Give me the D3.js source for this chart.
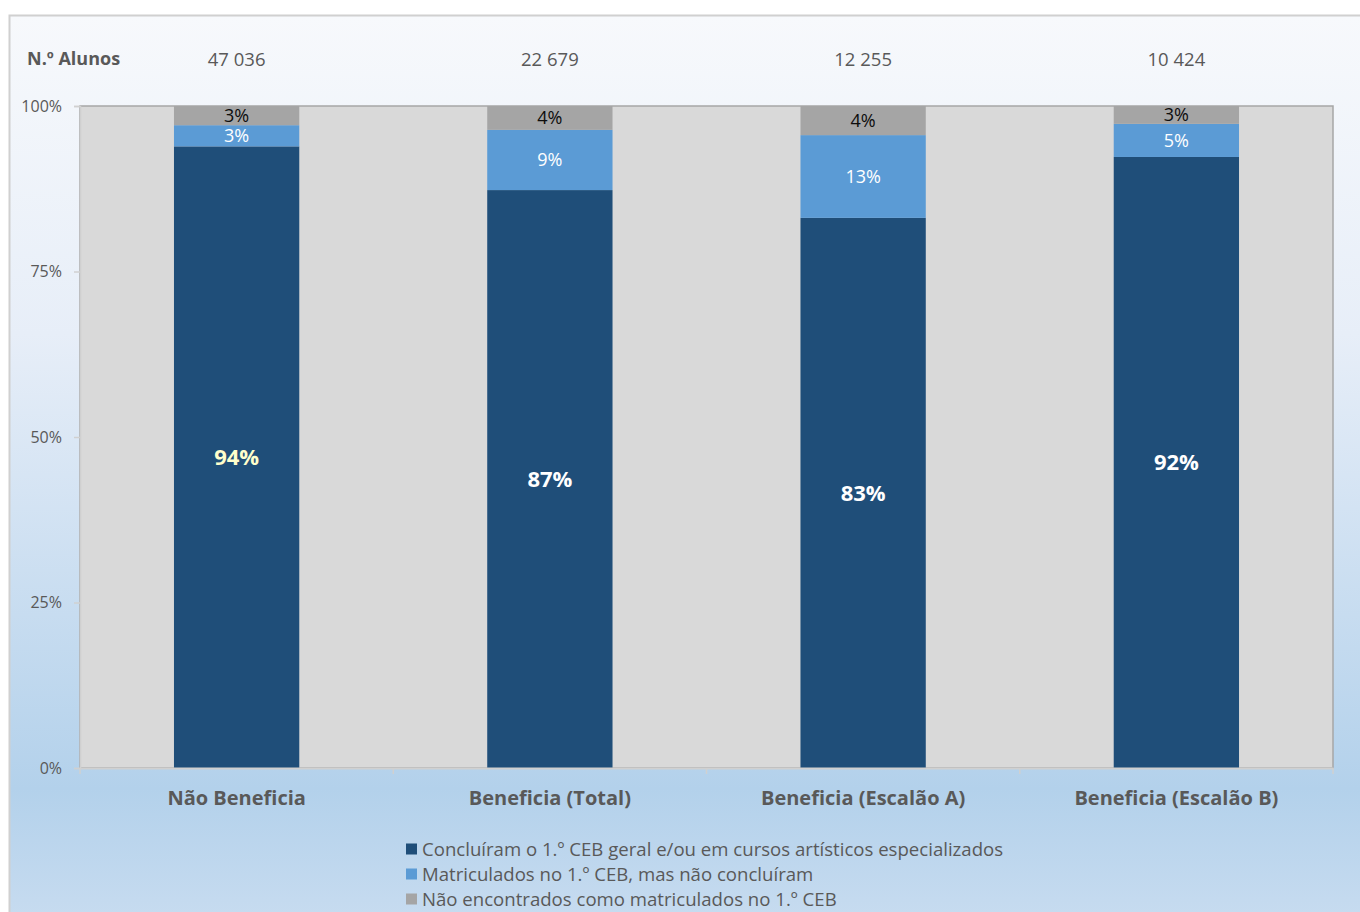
<!DOCTYPE html>
<html><head><meta charset="utf-8">
<script src="https://cdn.jsdelivr.net/npm/d3@7/dist/d3.min.js"></script>
<style>
html,body{margin:0;padding:0;background:#fff;}
svg{display:block;font-family:"Open Sans",sans-serif;}
</style></head>
<body><svg id="c" width="1360" height="912"></svg>
<script>
const categories = ["Não Beneficia","Beneficia (Total)","Beneficia (Escalão A)","Beneficia (Escalão B)"];
const alunos = ["47 036","22 679","12 255","10 424"];
const concluiram = [93.9, 87.3, 83.1, 92.3];
const matriculados = [3.2, 9.1, 12.5, 5.0];
const naoEncontrados = [2.9, 3.6, 4.4, 2.7];
const concluiramLabels = ["94%","87%","83%","92%"];
const matriculadosLabels = ["3%","9%","13%","5%"];
const naoEncontradosLabels = ["3%","4%","4%","3%"];
const seriesNames = ["Concluíram o 1.º CEB geral e/ou em cursos artísticos especializados","Matriculados no 1.º CEB, mas não concluíram","Não encontrados como matriculados no 1.º CEB"];
const yTicks = [0,25,50,75,100];

const colors = ["#1f4e79","#5b9bd5","#a5a5a5"];
const svg = d3.select("#c");

// background gradient frame
const defs = svg.append("defs");
const g = defs.append("linearGradient").attr("id","bg").attr("x1",0).attr("y1",0).attr("x2",0).attr("y2",1);
g.append("stop").attr("offset","0%").attr("stop-color","#f7f9fc");
g.append("stop").attr("offset","35%").attr("stop-color","#e7eef8");
g.append("stop").attr("offset","85%").attr("stop-color","#b3d1eb");
g.append("stop").attr("offset","100%").attr("stop-color","#c8dcf0");
svg.append("rect").attr("x",9.5).attr("y",15.5).attr("width",1360).attr("height",910)
  .attr("fill","url(#bg)").attr("stroke","#d0d0d0").attr("stroke-width",2);

const M = {l:80, r:1333, t:106, b:768};
const x = d3.scaleBand().domain(categories).range([M.l, M.r]).paddingInner(0.6).paddingOuter(0.3);
const xb = d3.scaleBand().domain(categories).range([M.l, M.r]);
const y = d3.scaleLinear().domain([0,100]).range([M.b, M.t]);

// plot area
svg.append("rect").attr("x",M.l).attr("y",M.t).attr("width",M.r-M.l).attr("height",M.b-M.t)
  .attr("fill","#d9d9d9").attr("stroke","#a6a6a6").attr("stroke-width",1.5);

// stacked data
const rows = categories.map((c,i)=>({cat:c, v:[concluiram[i], matriculados[i], naoEncontrados[i]], l:[concluiramLabels[i], matriculadosLabels[i], naoEncontradosLabels[i]]}));
const stack = d3.stack().keys([0,1,2]).value((d,k)=>d.v[k]);
const layers = stack(rows);

layers.forEach((layer,k)=>{
  svg.append("g").selectAll("rect").data(layer).join("rect")
    .attr("x",d=>x(d.data.cat)).attr("width",x.bandwidth())
    .attr("y",d=>y(d[1])).attr("height",d=>y(d[0])-y(d[1]))
    .attr("fill",colors[k]);
});

// axes
const yAxis = svg.append("g").attr("transform",`translate(${M.l},0)`)
  .call(d3.axisLeft(y).tickValues(yTicks).tickFormat(d=>d+"%").tickSize(6).tickPadding(12));
yAxis.select(".domain").attr("stroke","#d0d0d0").attr("stroke-width",1.5);
yAxis.selectAll(".tick line").attr("stroke","#d0d0d0").attr("stroke-width",1.5);
yAxis.selectAll(".tick text").attr("fill","#595959").style("font-size","16px").style("font-family","Open Sans");

const xAxis = svg.append("g").attr("transform",`translate(0,${M.b})`)
  .call(d3.axisBottom(xb).tickValues([]).tickSizeOuter(0));
xAxis.select(".domain").attr("stroke","#d0d0d0").attr("stroke-width",2);
const bounds = categories.map(c=>xb(c)).concat([M.r]);
svg.append("g").selectAll("line").data(bounds).join("line")
  .attr("x1",d=>d).attr("x2",d=>d).attr("y1",M.b).attr("y2",M.b+6)
  .attr("stroke","#d0d0d0").attr("stroke-width",1.5);

svg.append("g").selectAll("text").data(categories).join("text")
  .attr("x",d=>xb(d)+xb.bandwidth()/2).attr("y",798).attr("dy","0.36em").attr("text-anchor","middle")
  .attr("fill","#595959").style("font-size","20px").style("font-weight","bold")
  .text(d=>d);

// segment labels
layers.forEach((layer,k)=>{
  svg.append("g").selectAll("text").data(layer).join("text")
    .attr("x",d=>x(d.data.cat)+x.bandwidth()/2)
    .attr("y",d=>(y(d[0])+y(d[1]))/2)
    .attr("dy","0.36em").attr("text-anchor","middle")
    .attr("fill",(d,i)=> k===0 ? (i===0?"#ffffcc":"#ffffff") : (k===1?"#ffffff":"#0d0d0d"))
    .style("font-size", k===0?"22px":"18px")
    .style("font-weight", k===0?"bold":"normal")
    .text(d=>d.data.l[k]);
});

// N.º Alunos row
svg.append("text").attr("x",27).attr("y",59).attr("dy","0.36em")
  .attr("fill","#595959").style("font-size","18px").style("font-weight","bold").text("N.º Alunos");
svg.append("g").selectAll("text").data(categories).join("text")
  .attr("x",d=>xb(d)+xb.bandwidth()/2).attr("y",59).attr("dy","0.36em").attr("text-anchor","middle")
  .attr("fill","#595959").style("font-size","18.5px").text((d,i)=>alunos[i]);

// legend
const lg = svg.append("g").selectAll("g").data(seriesNames).join("g")
  .attr("transform",(d,i)=>`translate(406,${849+i*25})`);
lg.append("rect").attr("x",0).attr("y",-5.5).attr("width",11).attr("height",11).attr("fill",(d,i)=>colors[i]);
lg.append("text").attr("x",16).attr("y",0).attr("dy","0.36em").attr("fill","#595959")
  .style("font-size","18.6px").text(d=>d);
</script></body></html>
